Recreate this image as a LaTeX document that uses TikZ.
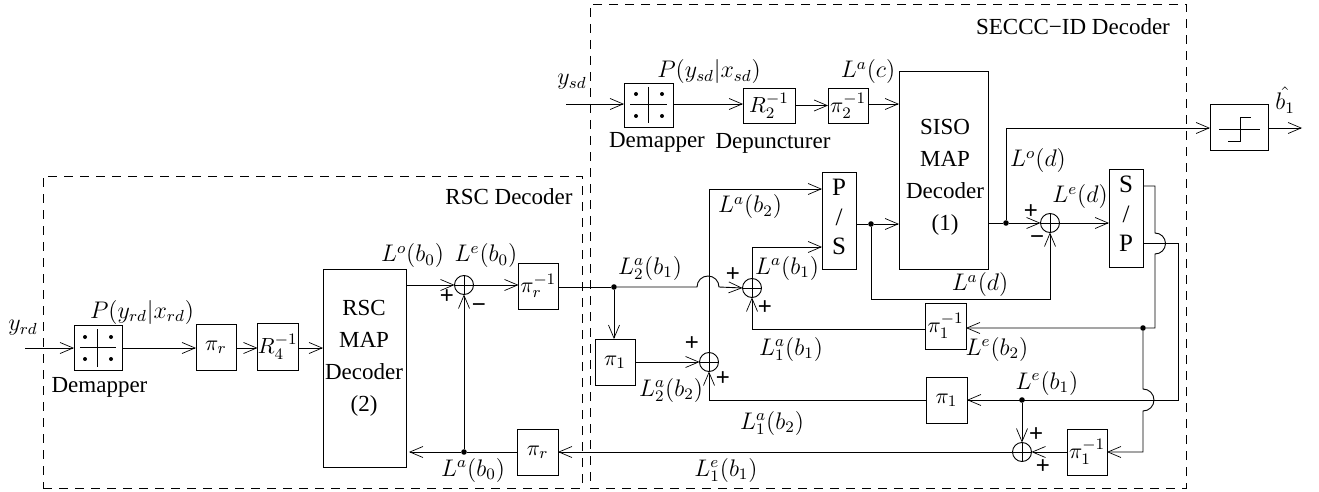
\documentclass[tikz,border=0pt]{standalone}
\usepackage[no-math]{fontspec}
\setmainfont{Liberation Serif}
\newfontfamily\plusfont{Liberation Sans}
\usetikzlibrary{arrows.meta}
\tikzset{
  >={Straight Barb[length=6.5pt,width=5.5pt,line width=0.35pt]},
  every path/.style={line width=0.45pt},
  blk/.style={draw,inner sep=0pt,outer sep=0pt,font=\fontsize{11}{13}\selectfont},
  sumnode/.style={circle,draw,minimum size=9.5pt,inner sep=0pt,outer sep=0pt,
    path picture={\draw (path picture bounding box.north)--(path picture bounding box.south)
      (path picture bounding box.west)--(path picture bounding box.east);}},
  dot/.style={circle,fill=black,minimum size=2.8pt,inner sep=0pt,outer sep=0pt},
  lab/.style={inner sep=0pt,align=center,font=\fontsize{11.5}{16}\selectfont},
  bigl/.style={inner sep=0pt,align=center,font=\fontsize{12.5}{14.7}\selectfont},
  sgn/.style={inner sep=0pt,font=\plusfont\fontsize{12}{12}\selectfont},
  frame/.style={dash pattern=on 4.5pt off 3.5pt,line width=0.4pt}
}
\newcommand\blk[6]{%
  \pgfmathsetmacro\wb{(#4-#2)*0.5}\pgfmathsetmacro\hb{(#5-#3)*0.5}%
  \node[blk,minimum width=\wb pt,minimum height=\hb pt] (#1) at ({(#2+#4)/2},{(#3+#5)/2}) {#6};}
\begin{document}
\begin{tikzpicture}[x=0.5pt,y=-0.5pt]
\useasboundingbox (0,0) rectangle (1319,492);
% frames
\node[frame,draw,inner sep=0pt,minimum width=269.5pt,minimum height=156pt] (rscframe) at (312.5,332) {};
\node[frame,draw,inner sep=0pt,minimum width=298pt,minimum height=242pt] (secframe) at (888,246) {};
% blocks
\blk{demA}{74}{325}{122.5}{370}{}
\blk{pirA}{196}{324}{236}{370}{$\pi_r$}
\blk{rfour}{257.5}{323}{298}{370}{$R_4^{-1}$}
\blk{rscmap}{323}{269}{406}{467}{}
\blk{pirinv}{518.5}{263}{558}{309}{$\pi_r^{-1}$}
\blk{pirB}{517.5}{429}{558}{475}{$\pi_r$}
\blk{demB}{624}{83}{673}{127}{}
\blk{rtwo}{743}{88}{795}{123}{$R_2^{-1}$}
\blk{pitwo}{828}{88}{868}{123}{$\pi_2^{-1}$}
\blk{siso}{899}{71}{988}{269}{}
\blk{ps}{822}{172}{856}{269}{}
\blk{sp}{1109}{169}{1143}{267}{}
\blk{thr}{1210}{104}{1268}{150}{}
\blk{piA}{595}{339}{635}{385}{$\pi_1$}
\blk{piinvA}{925}{303}{966}{349}{$\pi_1^{-1}$}
\blk{piB}{926}{377}{967}{423}{$\pi_1$}
\blk{piinvB}{1067}{429}{1107}{475}{$\pi_1^{-1}$}
% summers
\node[sumnode] (sumA) at (464,285) {};
\node[sumnode] (sumB) at (752,288) {};
\node[sumnode] (sumC) at (709,362) {};
\node[sumnode] (sumD) at (1050,223) {};
\node[sumnode] (sumE) at (1022,452) {};
% junctions
\node[dot] (jA) at (464,452) {};
\node[dot] (jB) at (614,287) {};
\node[dot] (jC) at (871,224) {};
\node[dot] (jD) at (1006,223) {};
\node[dot] (jE) at (1143,328) {};
\node[dot] (jF) at (1022,400) {};
% free ends
\coordinate (inA) at (25,348);
\coordinate (inB) at (566,104);
\coordinate (outB) at (1302,128);
% demapper glyphs
\draw (80,347) -- (116,347) (97.6,329) -- (97.6,367);
\foreach \x in {85,111}\foreach \y in {337,359}\fill (\x,\y) circle[radius=1pt];
\draw (630,104) -- (667,104) (648,87) -- (648,123);
\foreach \x in {636,662}\foreach \y in {94,116}\fill (\x,\y) circle[radius=1pt];
% threshold glyph
\draw (1219,129) -- (1260,129) (1228,141) -- (1240,141) -- (1240,117) -- (1251,117);
% RSC chain
\draw[->] (inA) -- (demA.west |- inA);
\draw[->] (demA.east |- inA) -- (pirA.west |- inA);
\draw[->] (pirA.east |- inA) -- (rfour.west |- inA);
\draw[->] (rfour.east |- inA) -- (rscmap.west |- inA);
\draw[->] (rscmap.east |- sumA) -- (sumA.west);
\draw[->] (sumA.east) -- (pirinv.west |- sumA);
\draw[->] (jA) -- (sumA.south);
\draw (pirB.west |- jA) -- (jA);
\draw[->] (jA) -- ([xshift=1.5pt]rscmap.east |- jA);
% upper chain
\draw[->] (inB) -- (demB.west |- inB);
\draw[->] (demB.east |- inB) -- (rtwo.west |- inB);
\draw[->] (rtwo.east) -- (pitwo.west);
\draw[->] (pitwo.east |- inB) -- (siso.west |- inB);
\draw[->] (jD) |- (thr.west |- outB);
\draw[->] (thr.east |- outB) -- (outB);
% SISO to S/P
\draw (siso.east |- jD) -- (jD);
\draw[->] (jD) -- (sumD.west);
\draw[->] (sumD.east) -- (sp.west |- sumD);
% P/S
\draw (ps.east |- jC) -- (jC);
\draw[->] (jC) -- (siso.west |- jC);
\draw[->] (jC) |- (1050,299) -- (sumD.south);
% main input
\draw (pirinv.east |- jB) -- (jB);
\draw[->] (jB) -- (697,287) arc[start angle=180,end angle=0,radius=5.5pt] -- (sumB.west);
\draw[->] (jB) -- (piA.north -| jB);
\draw[->] (piA.east |- sumC) -- (sumC.west);
\draw[->] (sumC.north) -- (709,189) -- (ps.west |- 0,189);
\draw[->] (sumB.north) -- (752,247) -- (ps.west |- 0,247);
\draw[->] (piinvA.west |- 0,329) -| (sumB.south);
\draw[->] (piB.west |- 0,400) -| (sumC.south);
% S/P outputs
\draw[->] (sp.east |- 0,186) -- (1155,186) -- (1155,233) arc[start angle=90,end angle=-90,radius=5.25pt] -- (1155,328) -- (jE) -- (piinvA.east |- jE);
\draw[->] (sp.east |- 0,243) -- (1178,243) -- (1178,400) -- (piB.east |- 0,400);
\draw[->] (jE) -- (1143,389) arc[start angle=90,end angle=-90,radius=5.5pt] -- (1143,452) -- (piinvB.east |- 0,452);
\draw[->] (jF) -- (sumE.north);
\draw[->] (piinvB.west |- sumE) -- (sumE.east);
\draw[->] (sumE.west) -- (pirB.east |- sumE);
% texts
\node[lab] (tA) at (23,328) {$y_{rd}$};
\node[lab] (tB) at (142,312) {$P(y_{rd}|x_{rd})$};
\node[lab] (tC) at (99.5,387) {Demapper};
\node[lab] (tD) at (364,358) {RSC\\MAP\\Decoder\\(2)};
\node[lab] (tE) at (412.5,256) {$L^o(b_0)$};
\node[lab] (tF) at (486,256) {$L^e(b_0)$};
\node[lab] (tG) at (473,470) {$L^a(b_0)$};
\node[lab] (tH) at (509,197) {RSC Decoder};
\node[lab] (tI) at (572,82) {$y_{sd}$};
\node[lab] (tJ) at (709,72) {$P(y_{sd}|x_{sd})$};
\node[lab] (tK) at (657,142) {Demapper};
\node[lab] (tL) at (773,143) {Depuncturer};
\node[lab] (tM) at (868,72) {$L^a(c)$};
\node[lab] (tN) at (945,177) {SISO\\MAP\\Decoder\\(1)};
\node[bigl] (tO) at (839,217) {P\\/\\S};
\node[bigl] (tP) at (1126,214) {S\\/\\P};
\node[lab] (tQ) at (750,207) {$L^a(b_2)$};
\node[lab] (tR) at (787,268) {$L^a(b_1)$};
\node[lab] (tS) at (650,268) {$L_2^a(b_1)$};
\node[lab] (tT) at (671,390) {$L_2^a(b_2)$};
\node[lab] (tU) at (772,423) {$L_1^a(b_2)$};
\node[lab] (tV) at (791,349) {$L_1^a(b_1)$};
\node[lab] (tW) at (980,285) {$L^a(d)$};
\node[lab] (tX) at (726,470) {$L_1^e(b_1)$};
\node[lab] (tY) at (997,349) {$L^e(b_2)$};
\node[lab] (tZ) at (1047,383) {$L^e(b_1)$};
\node[lab] (tAA) at (1038,161) {$L^o(d)$};
\node[lab] (tAB) at (1080,197) {$L^e(d)$};
\node[lab] (tAC) at (1073,27) {SECCC−ID Decoder};
\node[lab] (tAD) at (1285,100) {$\hat{b_1}$};
% signs
\node[sgn] (sA) at (447,297) {+};
\node[sgn] (sB) at (479,308) {−};
\node[sgn] (sC) at (733,275) {+};
\node[sgn] (sD) at (765,308) {+};
\node[sgn] (sE) at (692,344) {+};
\node[sgn] (sF) at (723,379) {+};
\node[sgn] (sG) at (1031,212) {+};
\node[sgn] (sH) at (1037,240) {−};
\node[sgn] (sI) at (1036,435) {+};
\node[sgn] (sJ) at (1043,467) {+};
\end{tikzpicture}
\end{document}
